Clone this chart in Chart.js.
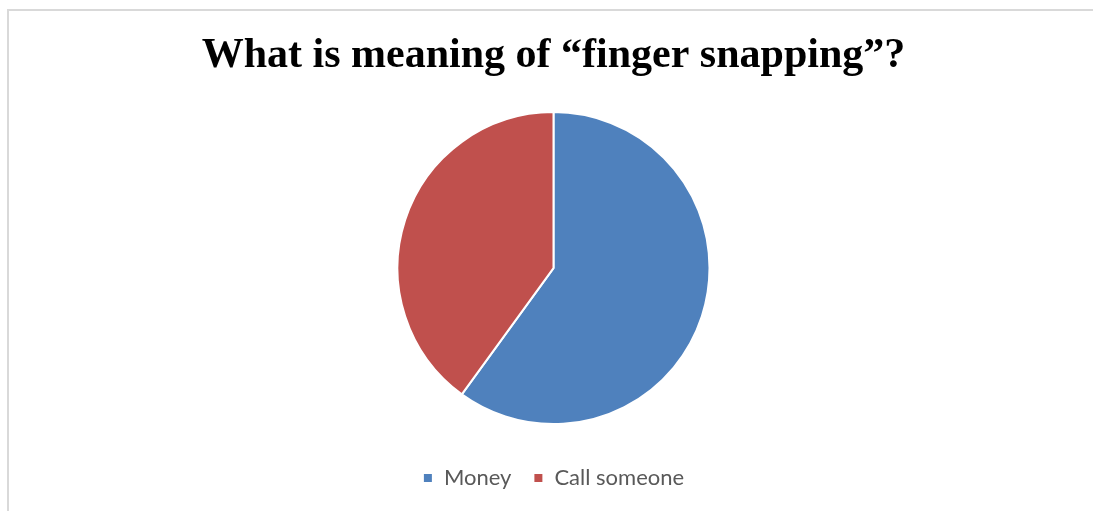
<!DOCTYPE html>
<html>
<head>
<meta charset="utf-8">
<script src="https://cdn.jsdelivr.net/npm/chart.js@4"></script>
<style>
  html, body { margin: 0; padding: 0; background: #fff; overflow: hidden; }
  #frame {
    position: absolute; left: 7px; top: 9px; width: 1200px; height: 600px;
    border: 2px solid #d9d9d9; box-sizing: border-box;
  }
  #wrap { position: absolute; left: 0; top: 0; width: 1093px; height: 511px; }
</style>
</head>
<body>
<div id="frame"></div>
<div id="wrap"><canvas id="chart" width="1093" height="511"></canvas></div>
<script>
// answers to the survey question
const labels = ["Money", "Call someone"];
const shares = [60, 40];
const colors = ["#4F81BD", "#C0504D"];
const titleText = "What is meaning of \u201Cfinger snapping\u201D?";

const ctx = document.getElementById("chart").getContext("2d");
new Chart(ctx, {
  type: "pie",
  data: {
    labels: labels,
    datasets: [{
      data: shares,
      backgroundColor: colors,
      borderColor: "#ffffff",
      borderWidth: 2,
      radius: 156,
    }],
  },
  options: {
    responsive: false,
    animation: false,
    layout: { padding: { left: 14, right: 0, top: 0, bottom: 12 } },
    plugins: {
      title: {
        display: true,
        text: titleText,
        color: "#000000",
        font: { family: "'Liberation Serif', 'Times New Roman', serif", size: 42, weight: "bold", lineHeight: 1.1 },
        padding: { top: 33, bottom: 12 },
      },
      legend: {
        position: "bottom",
        labels: {
          color: "#595959",
          font: { family: "Lato, 'Open Sans', sans-serif", size: 22 },
          boxWidth: 10,
          boxHeight: 10,
          padding: 22,
        },
      },
      tooltip: { enabled: false },
    },
  },
});
</script>
</body>
</html>
